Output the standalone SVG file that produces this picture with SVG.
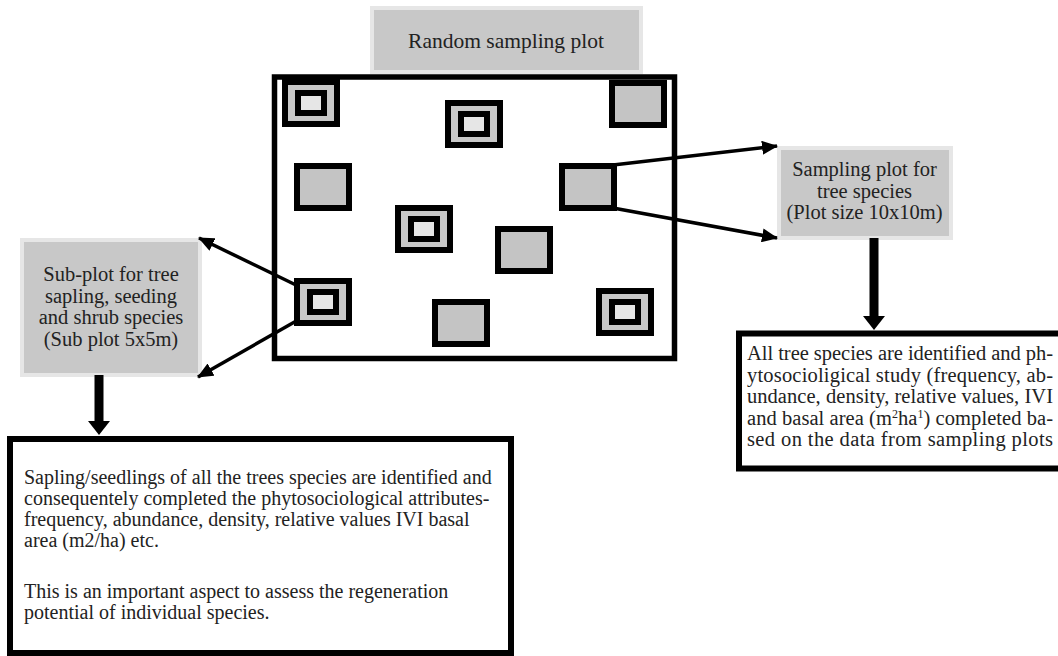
<svg xmlns="http://www.w3.org/2000/svg" xmlns:xlink="http://www.w3.org/1999/xlink" width="1058" height="656" viewBox="0 0 1058 656">
<style>
.lbl{font-family:"Liberation Serif","Times New Roman",serif;font-size:20.5px;fill:#222;text-anchor:middle}
.ttl{font-size:21.5px}
.body{font-family:"Liberation Serif","Times New Roman",serif;font-size:20px;fill:#222}
.bodyr{font-family:"Liberation Serif","Times New Roman",serif;font-size:20.5px;fill:#222}
.gbox{fill:#c8c8c8;stroke:#e6e6e6;stroke-width:4}
.frame{fill:#fff;stroke:#000;stroke-width:6}
.conn{stroke:#000;stroke-width:3.5;fill:none}
.thick{stroke:#000;stroke-width:9;fill:none}
.sq{stroke:#000;stroke-width:6}
.sup{font-size:12px}
</style>
<defs>
<marker id="ah" markerUnits="userSpaceOnUse" markerWidth="16" markerHeight="14" viewBox="0 0 16 14" refX="15" refY="7" orient="auto">
<path d="M0,0 L16,7 L0,14 z" fill="#000"/>
</marker>
<g id="sq-nested">
<rect class="sq" x="3" y="3" width="52" height="42" fill="#c8c8c8"/>
<rect class="sq" x="16" y="14" width="26" height="20" fill="#e6e6e6"/>
</g>
<g id="sq-plain">
<rect class="sq" x="3" y="3" width="52" height="42" fill="#c4c4c4"/>
</g>
</defs>

<g id="node-title">
<rect class="gbox" x="372" y="8" width="269" height="64"/>
<text class="lbl ttl" x="506" y="48">Random sampling plot</text>
</g>

<g id="node-plot">
<rect x="274.5" y="77" width="400" height="281.5" fill="#fff" stroke="#000" stroke-width="5.5"/>
<use xlink:href="#sq-nested" x="282" y="79"/>
<use xlink:href="#sq-nested" x="445" y="100"/>
<use xlink:href="#sq-plain" x="609" y="80"/>
<use xlink:href="#sq-plain" x="294" y="163"/>
<use xlink:href="#sq-plain" x="559" y="163"/>
<use xlink:href="#sq-nested" x="395" y="205"/>
<use xlink:href="#sq-plain" x="495" y="226"/>
<use xlink:href="#sq-nested" x="294" y="278"/>
<use xlink:href="#sq-plain" x="432" y="299"/>
<use xlink:href="#sq-nested" x="596" y="288"/>
</g>

<g id="node-subplot">
<rect class="gbox" x="22" y="240" width="178" height="135"/>
<text class="lbl" x="111" y="281">Sub-plot for tree</text>
<text class="lbl" x="111" y="302.5">sapling, seeding</text>
<text class="lbl" x="111" y="324">and shrub species</text>
<text class="lbl" x="111" y="345.5">(Sub plot 5x5m)</text>
</g>

<g id="node-treeplot">
<rect class="gbox" x="779" y="148" width="172" height="90"/>
<text class="lbl" x="864.5" y="176">Sampling plot for</text>
<text class="lbl" x="864.5" y="197.5">tree species</text>
<text class="lbl" x="864.5" y="219">(Plot size 10x10m)</text>
</g>

<g id="node-treestudy">
<path class="frame" d="M1060,333.5 H739 V468.5 H1060"/>
<text class="bodyr" x="747" y="360" textLength="306" lengthAdjust="spacing">All tree species are identified and ph-</text>
<text class="bodyr" x="747" y="381.5" textLength="306" lengthAdjust="spacing">ytosocioligical study (frequency, ab-</text>
<text class="bodyr" x="747" y="403" textLength="306" lengthAdjust="spacing">undance, density, relative values, IVI</text>
<text class="bodyr" x="747" y="424.5" textLength="306" lengthAdjust="spacing">and basal area (m<tspan class="sup" dy="-7">2</tspan><tspan dy="7">ha</tspan><tspan class="sup" dy="-7">1</tspan><tspan dy="7">) completed ba-</tspan></text>
<text class="bodyr" x="747" y="446" textLength="306" lengthAdjust="spacing">sed on the data from sampling plots</text>
</g>

<g id="node-saplingstudy">
<rect class="frame" x="10" y="439" width="501" height="214"/>
<text class="body" x="24" y="484">Sapling/seedlings of all the trees species are identified and</text>
<text class="body" x="24" y="505">consequentely completed the phytosociological attributes-</text>
<text class="body" x="24" y="526">frequency, abundance, density, relative values IVI basal</text>
<text class="body" x="24" y="547">area (m2/ha) etc.</text>
<text class="body" x="24" y="598">This is an important aspect to assess the regeneration</text>
<text class="body" x="24" y="619">potential of individual species.</text>
</g>

<g id="connectors">
<line class="conn" x1="298" y1="286" x2="199" y2="238" marker-end="url(#ah)"/>
<line class="conn" x1="298" y1="320" x2="198" y2="377" marker-end="url(#ah)"/>
<line class="conn" x1="613" y1="165" x2="777" y2="146" marker-end="url(#ah)"/>
<line class="conn" x1="613" y1="208" x2="777" y2="238" marker-end="url(#ah)"/>
<line class="thick" x1="99" y1="375" x2="99" y2="424"/>
<polygon points="88,421 110,421 99,435" fill="#000"/>
<line class="thick" x1="874" y1="238" x2="874" y2="319"/>
<polygon points="863,316 885,316 874,330" fill="#000"/>
</g>
</svg>
